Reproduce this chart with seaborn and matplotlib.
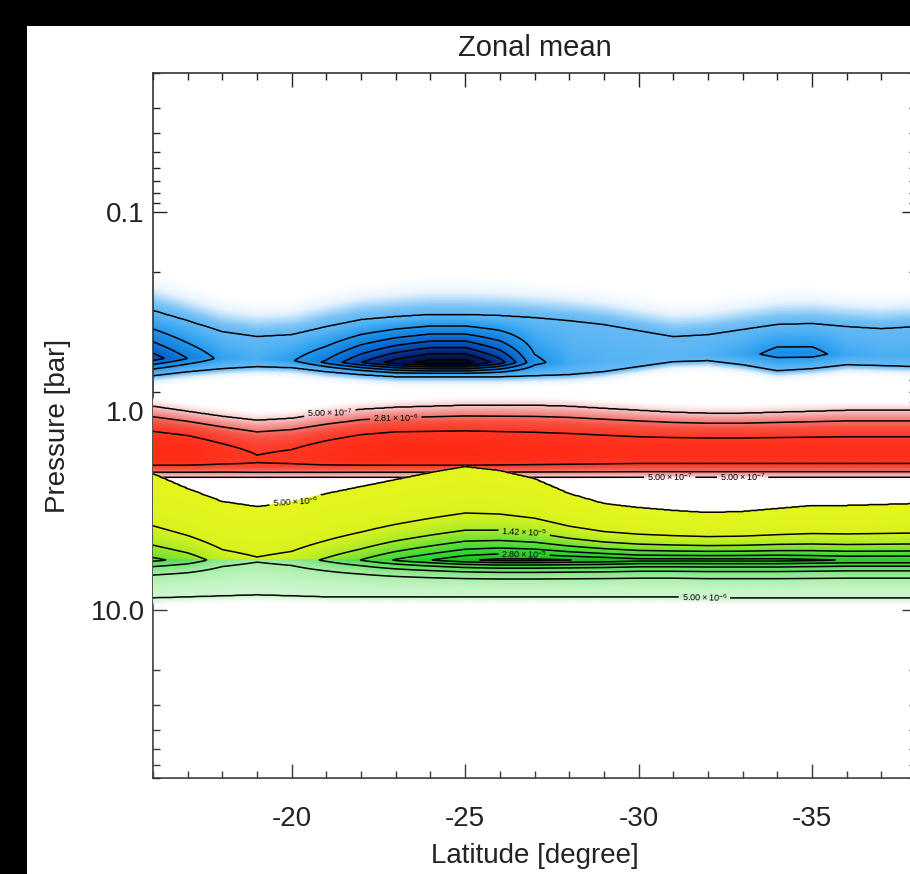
import numpy as np
import matplotlib
matplotlib.use("Agg")
import matplotlib.pyplot as plt
import seaborn as sns
from matplotlib.colors import LinearSegmentedColormap, Normalize
from matplotlib.patches import Rectangle
from matplotlib.ticker import FixedLocator, FixedFormatter, MultipleLocator, LogLocator, NullFormatter

# ---------------- data ----------------
lat = [-16, -17, -18, -19, -20, -21, -22, -23, -24, -25, -26, -27,
       -28, -29, -30, -31, -32, -33, -34, -35, -36, -37, -38]

# blue layer: outer contour top / core / outer contour bottom [bar], peak (units of outer level)
blue_top = [0.313, 0.352, 0.400, 0.423, 0.414, 0.377, 0.348, 0.336, 0.328, 0.328, 0.332, 0.340,
            0.352, 0.368, 0.395, 0.423, 0.414, 0.390, 0.368, 0.364, 0.377, 0.386, 0.377]
blue_core = [0.545, 0.545, 0.545, 0.552, 0.558, 0.571, 0.571, 0.571, 0.571, 0.571, 0.571, 0.571,
             0.571, 0.558, 0.545, 0.533, 0.527, 0.521, 0.515, 0.515, 0.521, 0.527, 0.527]
blue_bot = [0.664, 0.634, 0.612, 0.598, 0.605, 0.634, 0.656, 0.672, 0.672, 0.672, 0.672, 0.664,
            0.656, 0.634, 0.598, 0.565, 0.558, 0.585, 0.627, 0.612, 0.585, 0.591, 0.598]
blue_peak = [4.5, 3.0, 1.7, 1.3, 1.9, 3.2, 5.0, 6.5, 7.5, 7.5, 5.5, 2.3,
             1.4, 1.2, 1.15, 1.1, 1.2, 1.6, 2.4, 2.4, 1.5, 1.3, 1.3]
blue_levels = [1, 2, 3, 4, 5, 6, 7]

# red layer
red_top = [0.949, 1.006, 1.066, 1.116, 1.090, 1.029, 0.983, 0.960, 0.949, 0.938, 0.938, 0.938,
           0.949, 0.972, 0.994, 1.017, 1.029, 1.029, 1.017, 1.006, 0.994, 0.994, 0.994]
red_core = [1.652, 1.672, 1.711, 1.771, 1.751, 1.711, 1.672, 1.652, 1.652, 1.652, 1.652, 1.652,
            1.652, 1.652, 1.652, 1.652, 1.652, 1.652, 1.652, 1.652, 1.652, 1.652, 1.652]
red_bot = [2.15] * 23
red_peak = [6.5e-6, 6.3e-6, 5.7e-6, 5.2e-6, 5.4e-6, 5.9e-6, 6.3e-6, 6.5e-6, 6.5e-6, 6.5e-6, 6.4e-6, 6.3e-6,
            6.2e-6, 6.1e-6, 6.0e-6, 6.0e-6, 6.0e-6, 6.0e-6, 6.0e-6, 6.0e-6, 6.0e-6, 6.0e-6, 6.0e-6]
red_levels = [5.00e-7, 2.81e-6, 5.12e-6]

# yellow / green layer
green_top = [2.057, 2.446, 2.842, 3.012, 2.875, 2.591, 2.390, 2.205, 2.033, 1.897, 1.987, 2.179,
             2.591, 2.909, 3.046, 3.153, 3.227, 3.190, 3.082, 2.977, 2.977, 2.943, 2.909]
green_core = [5.62] * 23
green_bot = [8.71, 8.61, 8.51, 8.41, 8.51, 8.61, 8.61, 8.61, 8.61, 8.61, 8.61, 8.61,
             8.61, 8.61, 8.61, 8.61, 8.71, 8.71, 8.71, 8.71, 8.71, 8.71, 8.71]
green_peak = [20e-6, 17e-6, 12e-6, 10.2e-6, 11.5e-6, 15e-6, 19e-6, 24e-6, 28e-6, 32e-6, 34e-6, 34e-6,
              33e-6, 32e-6, 30e-6, 30e-6, 30e-6, 30e-6, 30e-6, 29e-6, 28e-6, 28e-6, 28e-6]
green_levels = [5.0e-6, 9.6e-6, 1.42e-5, 1.88e-5, 2.34e-5, 2.80e-5, 3.26e-5]
green_labelled = [5.0e-6, 1.42e-5, 2.80e-5]

x_ticks = [-20, -25, -30, -35]
y_ticks = [0.1, 1.0, 10.0]
y_ticklabels = ["0.1", "1.0", "10.0"]

# ---------------- build fields ----------------
LAT = np.linspace(lat[0], lat[-1], 441)
LOGP = np.linspace(np.log10(0.02), np.log10(70), 1200)
P = 10 ** LOGP


def node(v, log=False):
    v = np.asarray(v, float)
    if log:
        v = np.log10(v)
    return np.interp(-LAT, -np.asarray(lat, float), v)[None, :]


def layer(top, core, bot, peak, base, kind, fade_top, fade_bot):
    zt, zc, zb = node(top, True), node(core, True), node(bot, True)
    A = node(peak)
    z = LOGP[:, None]
    above = z < zc
    u = np.where(above, (zc - z) / (zc - zt), (z - zc) / (zb - zc))
    uc = np.clip(u, 0, 1)
    if kind == "log":
        inside = base * (A / base) ** ((1 - uc) ** 1.5)
    elif kind == "pow":
        inside = base + (A - base) * (1 - uc) ** 1.3
    else:
        inside = base + (A - base) * (1 - uc ** 2)
    d = np.maximum(np.where(above, zt - z, z - zb), 0)
    w = np.where(above, fade_top, fade_bot)
    outside = base * np.exp(-(d / w) ** 2)
    return np.where(u <= 1, inside, outside), np.broadcast_to(above, inside.shape)


FB, _ = layer(blue_top, blue_core, blue_bot, blue_peak, 1.0, "pow", 0.10, 0.03)
FR, _ = layer(red_top, red_core, red_bot, red_peak, 5e-7, "par", 0.025, 0.006)
FG, gabove = layer(green_top, green_core, green_bot, green_peak, 5e-6, "log", 0.002, 0.02)

# ---------------- colour maps ----------------
def cmap_from(stops, vmax):
    return LinearSegmentedColormap.from_list("c", [(p / vmax, c) for p, c in stops])

blue_cmap = cmap_from([(0, (1, 1, 1, 0)), (0.3, "#e6f3fe"), (1.0, "#62b8f4"), (1.5, "#3ca8f2"),
                       (2.0, "#2498ec"), (3.0, "#127ede"), (4.0, "#0860c8"), (5.0, "#0440a0"),
                       (6.0, "#022270"), (7.5, "#000a28")], 7.5)
red_cmap = cmap_from([(0, (1, 1, 1, 0)), (0.25, (0.99, 0.92, 0.92, 1)), (0.5, "#f9d2d2"),
                      (1.5, "#f5a8a8"), (2.81, "#f27a72"), (4.0, "#f85040"), (5.12, "#ff3826"),
                      (6.5, "#ff2a14")], 6.5)
green_cmap = cmap_from([(0.0, (1, 1, 1, 0)), (0.124, (1, 1, 1, 0)), (0.125, "#e3f51c"),
                        (0.24, "#d8f21e"), (0.355, "#a8ea2a"), (0.47, "#6ae034"), (0.585, "#3ed83a"),
                        (0.70, "#2ad22a"), (0.85, "#1cbc1c"), (1.0, "#129612"),
                        (1.001, (1, 1, 1, 0)), (1.125, "#cdf6cd"), (1.24, "#a6eea6"),
                        (1.355, "#78e478"), (1.47, "#50da50"), (1.585, "#38d238"),
                        (1.70, "#28c428"), (1.85, "#1eae1e"), (2.0, "#128c12")], 2.0)

gs = np.clip(FG / 40e-6, 0, 1)
GIDX = np.where(gabove, gs, 1.0015 + gs * 0.9985)

# ---------------- figure ----------------
sns.set_theme(style="ticks")
plt.rcParams["font.family"] = ["Liberation Sans", "DejaVu Sans"]
plt.rcParams["axes.unicode_minus"] = False
plt.rcParams["mathtext.fontset"] = "custom"
plt.rcParams["mathtext.rm"] = "Liberation Sans"

W, H = 910, 874
fig = plt.figure(figsize=(W / 100, H / 100), dpi=100)
fig.patch.set_facecolor("black")
fig.add_artist(Rectangle((27 / W, 0), 1, (H - 26) / H, transform=fig.transFigure,
                         facecolor="white", edgecolor="none", zorder=-10))
ax = fig.add_axes([153 / W, 1 - 778 / H, 763 / W, 705 / H])
ax.set_facecolor("white")

LW = 1.1
ax.pcolormesh(LAT, P, FB, cmap=blue_cmap, norm=Normalize(0, 7.5), shading="gouraud",
              rasterized=True, zorder=1)
ax.contour(LAT, P, FB, levels=blue_levels, colors="black", linewidths=LW, zorder=2)

ax.pcolormesh(LAT, P, FR / 1e-6, cmap=red_cmap, norm=Normalize(0, 6.5), shading="gouraud",
              rasterized=True, zorder=3)
cs_r = ax.contour(LAT, P, FR, levels=red_levels, colors="black", linewidths=LW, zorder=4)

ax.pcolormesh(LAT, P, GIDX, cmap=green_cmap, norm=Normalize(0, 2.0), shading="gouraud",
              rasterized=True, zorder=5)
ax.contour(LAT, P, FG, levels=[v for v in green_levels if v not in green_labelled],
           colors="black", linewidths=LW, zorder=6)
cs_g = ax.contour(LAT, P, FG, levels=green_labelled, colors="black", linewidths=LW, zorder=6)


def fmt(v):
    m, e = f"{v:.2e}".split("e")
    return rf"${m}\times10^{{{int(e)}}}$"


ax.clabel(cs_r, levels=[5.00e-7, 2.81e-6],
          manual=[(-21.1, 1.07), (-23.0, 1.33), (-30.9, 2.14), (-33.0, 2.10)],
          fmt=fmt, fontsize=6.5, inline=True, inline_spacing=3)
ax.clabel(cs_g, levels=green_labelled,
          manual=[(-20.1, 2.9), (-26.7, 4.35), (-26.7, 4.95), (-31.9, 8.6)],
          fmt=fmt, fontsize=6.5, inline=True, inline_spacing=3)

ax.set_xlim(-16, -38)
ax.set_yscale("log")
ax.set_ylim(70, 0.02)
ax.xaxis.set_major_locator(FixedLocator(x_ticks))
ax.xaxis.set_minor_locator(MultipleLocator(1))
ax.yaxis.set_major_locator(FixedLocator(y_ticks))
ax.yaxis.set_major_formatter(FixedFormatter(y_ticklabels))
ax.yaxis.set_minor_locator(LogLocator(base=10, subs=np.arange(2, 10)))
ax.yaxis.set_minor_formatter(NullFormatter())

ax.tick_params(which="both", direction="in", top=True, right=True, color="#222222", width=1.0,
               labelsize=20, labelcolor="#222222")
ax.tick_params(which="major", length=10)
ax.tick_params(which="minor", length=5)
ax.tick_params(axis="x", pad=20)
ax.tick_params(axis="y", pad=6)
for s in ax.spines.values():
    s.set_linewidth(1.2)
    s.set_color("#333333")

ax.set_title("Zonal mean", fontsize=21, color="#222222", pad=12)
ax.set_xlabel("Latitude [degree]", fontsize=20, color="#222222", labelpad=8)
ax.set_ylabel("Pressure [bar]", fontsize=20, color="#222222", labelpad=14)

fig.savefig("out.png", dpi=100, facecolor=fig.get_facecolor())
